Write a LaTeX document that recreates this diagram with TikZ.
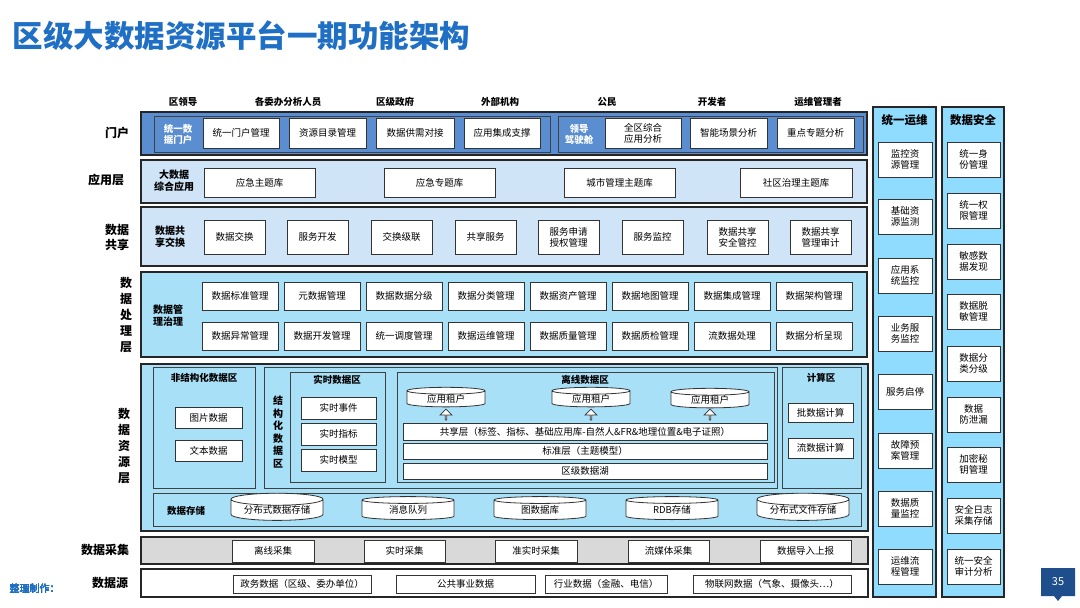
\documentclass[tikz,border=0pt]{standalone}
\usepackage{fontspec}
\setmainfont{Noto Sans CJK SC}
\usetikzlibrary{shapes.geometric,shapes.arrows}
\definecolor{tblue}{HTML}{1F6FC5}
\definecolor{portal}{HTML}{5B8ED0}
\definecolor{lblue}{HTML}{CFE4F7}
\definecolor{cyanl}{HTML}{A8E0F8}
\definecolor{cyanr}{HTML}{8FDCFF}
\definecolor{grayl}{HTML}{D9D9D9}
\definecolor{pgblue}{HTML}{1F4E8C}
\tikzset{
 bx/.style={draw=black!80,fill=white,line width=0.8pt,align=center,inner sep=1pt,font=\fontsize{9.5}{11}\selectfont},
 layer/.style={draw=black!85,line width=1.1pt,inner sep=0pt},
 zone/.style={draw=black!75,line width=0.8pt,inner sep=0pt},
 lab/.style={font=\bfseries\fontsize{12}{14}\selectfont,align=center},
 sub/.style={font=\bfseries\fontsize{10}{12}\selectfont,align=center},
 role/.style={font=\bfseries\fontsize{9.5}{11}\selectfont},
 cyl/.style={cylinder,shape border rotate=90,aspect=0.18,draw=black!80,fill=white,line width=0.8pt,font=\fontsize{9.5}{11}\selectfont,inner sep=0pt},
 uparr/.style={single arrow,shape border rotate=90,draw=black!80,fill=white,minimum height=11pt,minimum width=12pt,single arrow head extend=2.5pt,inner sep=0pt,line width=0.8pt}
}
\newcommand\bx[7][bx]{\node[#1,minimum width={((#5)-(#3))*1pt},minimum height={((#6)-(#4))*1pt}] (#2) at ({((#3)+(#5))/2},{((#4)+(#6))/2}) {#7};}
\begin{document}
\begin{tikzpicture}[x=1pt,y=-1pt]
\useasboundingbox (0,0) rectangle (1080,608);
\fill[white] (0,0) rectangle (1080,608);
% title
\node[anchor=west,text=tblue,font=\bfseries\fontsize{30.5}{33}\selectfont] (title) at (9,36) {区级大数据资源平台一期功能架构};
% roles
\foreach \t/\x [count=\i] in {区领导/183,各委办分析人员/288,区级政府/395,外部机构/500,公民/607,开发者/712,运维管理者/818}
  \node[role] (r\i) at (\x,102) {\t};
% layer labels
\node[lab] (l1) at (117,133) {门户};
\node[lab] (l2) at (106,180) {应用层};
\node[lab,font=\bfseries\fontsize{12}{15}\selectfont] (l3) at (117,237) {数据\\共享};
\node[lab,font=\bfseries\fontsize{12}{16}\selectfont] (l4) at (126,315) {数\\据\\处\\理\\层};
\node[lab,font=\bfseries\fontsize{12}{16}\selectfont] (l5) at (124,446) {数\\据\\资\\源\\层};
\node[lab] (l6) at (105,550) {数据采集};
\node[lab] (l7) at (110,583) {数据源};
% ===== portal
\bx[layer,fill=portal]{portal}{141}{112}{867}{155}{}
\bx[zone,fill=portal]{pg1}{154}{116}{550}{152}{}
\bx[zone,fill=portal]{pg2}{558}{116}{863}{152}{}
\node[sub,text=white,font=\bfseries\fontsize{9.5}{11}\selectfont] (pl1) at (178,134) {统一数\\据门户};
\node[sub,text=white,font=\bfseries\fontsize{9.5}{11}\selectfont] (pl2) at (579,134) {领导\\驾驶舱};
\bx{p1}{203}{118}{279}{148}{统一门户管理}
\bx{p2}{289}{118}{366}{148}{资源目录管理}
\bx{p3}{376}{118}{454}{148}{数据供需对接}
\bx{p4}{464}{118}{540}{148}{应用集成支撑}
\bx{p5}{605}{118}{681}{148}{全区综合\\应用分析}
\bx{p6}{690}{118}{767}{148}{智能场景分析}
\bx{p7}{777}{118}{854}{148}{重点专题分析}
% ===== application
\bx[layer,fill=lblue]{app}{141}{160}{867}{203}{}
\node[sub] (al) at (174,181) {大数据\\综合应用};
\bx{a1}{204}{168}{315}{197}{应急主题库}
\bx{a2}{384}{168}{495}{197}{应急专题库}
\bx{a3}{564}{168}{675}{197}{城市管理主题库}
\bx{a4}{740}{168}{852}{197}{社区治理主题库}
% ===== sharing
\bx[layer,fill=lblue]{share}{141}{207}{867}{266}{}
\node[sub] (sl) at (170,237) {数据共\\享交换};
\foreach \t/\a [count=\i] in {数据交换/204,服务开发/287,交换级联/371,共享服务/455,服务申请\\授权管理/538,服务监控/622,数据共享\\安全管控/707,数据共享\\管理审计/790}
  \bx{s\i}{\a}{220}{\a+61}{254}{\t}
% ===== processing
\bx[layer,fill=cyanl]{proc}{141}{272}{867}{357}{}
\node[sub] (prl) at (168,316) {数据管\\理治理};
\foreach \t [count=\i] in {数据标准管理,元数据管理,数据数据分级,数据分类管理,数据资产管理,数据地图管理,数据集成管理,数据架构管理}
  \bx{pa\i}{202+82*(\i-1)}{282}{278+82*(\i-1)}{310}{\t}
\foreach \t [count=\i] in {数据异常管理,数据开发管理,统一调度管理,数据运维管理,数据质量管理,数据质检管理,流数据处理,数据分析呈现}
  \bx{pb\i}{202+82*(\i-1)}{322}{278+82*(\i-1)}{350}{\t}
% ===== resources
\bx[layer,fill=cyanl]{res}{141}{364}{868}{531}{}
\bx[zone,fill=cyanl]{unst}{153}{367}{255}{488}{}
\node[sub,font=\bfseries\fontsize{9.5}{11}\selectfont] (unl) at (204,378) {非结构化数据区};
\bx{u1}{175}{407}{242}{428}{图片数据}
\bx{u2}{175}{440}{242}{461}{文本数据}
\bx[zone,fill=cyanl]{stru}{264}{367}{777}{488}{}
\node[sub,font=\bfseries\fontsize{10}{12.5}\selectfont] (stl) at (278,432) {结\\构\\化\\数\\据\\区};
\bx[zone,fill=cyanl]{rt}{290}{372}{385}{482}{}
\node[sub,font=\bfseries\fontsize{9.5}{11}\selectfont] (rtl) at (337,380) {实时数据区};
\bx{rt1}{301}{397}{376}{419}{实时事件}
\bx{rt2}{301}{423}{376}{445}{实时指标}
\bx{rt3}{301}{449}{376}{471}{实时模型}
\bx[zone,fill=cyanl]{off}{397}{372}{774}{482}{}
\node[sub,font=\bfseries\fontsize{9.5}{11}\selectfont] (ofl) at (585,380) {离线数据区};
\node[cyl,minimum width=78pt,minimum height=17pt] (t1) at (446,399) {应用租户};
\node[cyl,minimum width=78pt,minimum height=17pt] (t2) at (591,399) {应用租户};
\node[cyl,minimum width=78pt,minimum height=17pt] (t3) at (710,400) {应用租户};
\bx{sh}{403}{423}{767}{440}{共享层（标签、指标、基础应用库-自然人\&FR\&地理位置\&电子证照）}
\bx{st}{403}{443}{767}{459}{标准层（主题模型）}
\bx{lk}{403}{463}{767}{479}{区级数据湖}
\node[uparr] (ar1) at (446,415) {};
\node[uparr] (ar2) at (591,415) {};
\node[uparr] (ar3) at (710,415) {};
\bx[zone,fill=cyanl]{cmp}{782}{367}{861}{488}{}
\node[sub,font=\bfseries\fontsize{9.5}{11}\selectfont] (cml) at (821,378) {计算区};
\bx{c1}{788}{403}{853}{422}{批数据计算}
\bx{c2}{788}{438}{853}{458}{流数据计算}
\bx[zone,fill=cyanl]{stor}{153}{493}{861}{526}{}
\node[sub,font=\bfseries\fontsize{9.5}{11}\selectfont] (sol) at (186,511) {数据存储};
\foreach \t/\a [count=\i] in {分布式数据存储/231,消息队列/362,图数据库/494,RDB存储/626,分布式文件存储/757}
  \node[cyl,minimum width=92pt,minimum height=23pt] (d\i) at (\a+46,510) {\t};
% ===== collection
\bx[layer,fill=grayl]{col}{141}{537}{868}{564}{}
\foreach \t/\a/\b [count=\i] in {离线采集/232/314,实时采集/364/445,准实时采集/495/577,流媒体采集/628/709,数据导入上报/760/851}
  \bx{k\i}{\a}{540}{\b}{562}{\t}
% ===== sources
\bx[layer]{src}{141}{569}{868}{597}{}
\foreach \t/\a/\b [count=\i] in {政务数据（区级、委办单位）/233/371,公共事业数据/396/535,行业数据（金融、电信）/545/667,物联网数据（气象、摄像头…）/693/851}
  \bx{q\i}{\a}{575}{\b}{593}{\t}
% ===== right columns
\bx[layer,fill=cyanr]{ops}{873}{107}{936}{597}{}
\node[lab,font=\bfseries\fontsize{11.5}{13}\selectfont] (opl) at (904.5,120) {统一运维};
\foreach \t/\y [count=\i] in {监控资\\源管理/142,基础资\\源监测/199,应用系\\统监控/258,业务服\\务监控/316,服务启停/374,故障预\\案管理/433,数据质\\量监控/491,运维流\\程管理/549}
  \bx{o\i}{878}{\y}{932}{\y+35}{\t}
\bx[layer,fill=cyanr]{sec}{942}{107}{1004}{597}{}
\node[lab,font=\bfseries\fontsize{11.5}{13}\selectfont] (sel) at (973,120) {数据安全};
\foreach \t/\y [count=\i] in {统一身\\份管理/142,统一权\\限管理/193,敏感数\\据发现/244,数据脱\\敏管理/294,数据分\\类分级/346,数据\\防泄漏/397,加密秘\\钥管理/447,安全日志\\采集存储/498,统一安全\\审计分析/549}
  \bx{e\i}{947}{\y}{1000}{\y+35}{\t}
% footer
\node[anchor=west,text=tblue,font=\fontsize{10}{12}\selectfont] (foot) at (6,589) {整理制作：};
\fill[pgblue] (1041,568) rectangle (1075,596) -- (1062,596) -- (1058,601) -- (1054,596) -- cycle;
\node[text=white,font=\fontsize{11}{13}\selectfont] (pg) at (1058,582) {35};
\end{tikzpicture}
\end{document}
